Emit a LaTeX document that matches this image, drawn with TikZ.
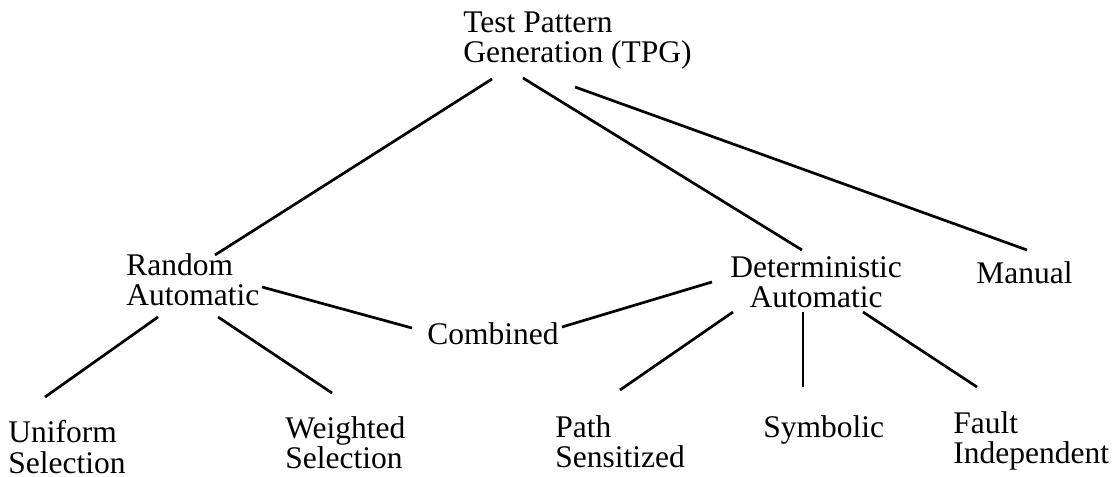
\documentclass[tikz,border=0pt]{standalone}
\usepackage{fontspec}
\setmainfont{Liberation Serif}
\usetikzlibrary{calc}
\tikzset{lbl/.style={anchor=north west, inner sep=0pt, align=left, font=\fontsize{15.75pt}{15.25pt}\selectfont},
	link/.style={line width=1.35pt}}

\begin{document}
\begin{tikzpicture}[x=0.5pt, y=-0.5pt]
		\useasboundingbox (0,0) rectangle (1116,477);
		% top
		\node[lbl] (tpg) at (463,11) {Test Pattern\\Generation (TPG)};
		% middle row
		\node[lbl] (rnd) at (126,253) {Random\\Automatic};
		\node[lbl, align=center] (det) at (730,256) {Deterministic\\Automatic};
		\node[lbl] (man) at (976,261) {Manual};
		\node[lbl] (comb) at (427,322) {Combined};
		% bottom row
		\node[lbl] (uni) at (8,420) {Uniform\\Selection};
		\node[lbl] (wei) at (285,416) {Weighted\\Selection};
		\node[lbl] (path) at (555,415) {Path\\Sensitized};
		\node[lbl] (sym) at (763,415) {Symbolic};
		\node[lbl] (flt) at (953,411) {Fault\\Independent};
		% links
		\draw[link] ($(tpg.north west)+(29,68)$)--($(rnd.north west)+(89,2)$);
		\draw[link] ($(tpg.north west)+(60,67)$)--($(det.north west)+(72,-6)$);
		\draw[link] ($(tpg.north west)+(112,76)$)--($(man.north west)+(51,-11)$);
		\draw[link] ($(rnd.north west)+(136,34)$)--($(comb.north west)+(-15,6)$);
		\draw[link] ($(comb.north west)+(135,5)$)--($(det.north west)+(-18,26)$);
		\draw[link] ($(rnd.north west)+(32,64)$)--($(uni.north west)+(37,-23)$);
		\draw[link] ($(rnd.north west)+(92,64)$)--($(wei.north west)+(47,-23)$);
		\draw[link] ($(det.north west)+(3,56)$)--($(path.north west)+(65,-25)$);
		\draw[link] ($(det.north west)+(73,56)$)--($(sym.north west)+(40,-28)$);
		\draw[link] ($(det.north west)+(133,56)$)--($(flt.north west)+(24,-24)$);
\end{tikzpicture}
\end{document}
